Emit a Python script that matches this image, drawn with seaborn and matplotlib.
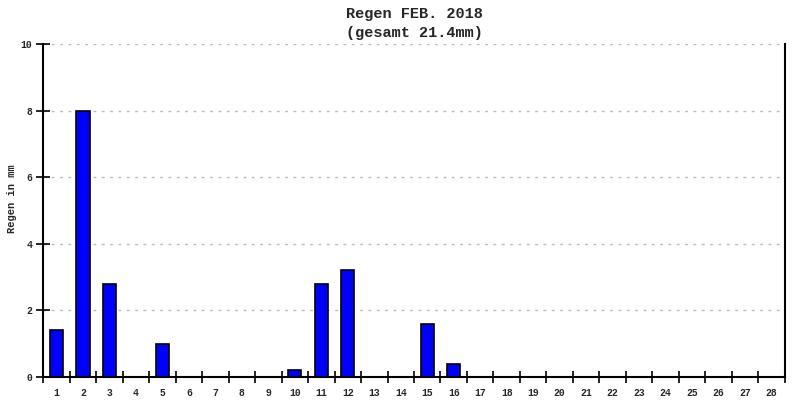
import matplotlib
matplotlib.use("Agg")
import matplotlib.pyplot as plt
import seaborn as sns
import pandas as pd
import numpy as np
from matplotlib.ticker import FixedLocator

# Daily rain values, February 2018
days = [str(d) for d in range(1, 29)]
rain_mm = [1.4, 8.0, 2.8, 0.0, 1.0, 0.0, 0.0, 0.0, 0.0, 0.2,
           2.8, 3.2, 0.0, 0.0, 1.6, 0.4, 0.0, 0.0, 0.0, 0.0,
           0.0, 0.0, 0.0, 0.0, 0.0, 0.0, 0.0, 0.0]
y_ticks = [0, 2, 4, 6, 8, 10]
title = "Regen FEB. 2018\n(gesamt 21.4mm)"
ylabel = "Regen in mm"

df = pd.DataFrame({"day": days, "rain": rain_mm})

sns.set_style("white")
plt.rcParams["font.family"] = ["Liberation Mono", "DejaVu Sans Mono"]

fig = plt.figure(figsize=(8, 4), dpi=100)
ax = fig.add_axes([0.054, 0.0575, 0.927, 0.8325])

sns.barplot(data=df, x="day", y="rain", color="#0000ff", width=0.5,
            edgecolor="black", linewidth=1.2, saturation=1, ax=ax)

ax.set_xlim(-0.5, len(days) - 0.5)
ax.set_ylim(0, 10)
ax.set_yticks(y_ticks)
ax.set_yticklabels([str(t) for t in y_ticks], fontsize=7, fontweight="bold")

# day labels centred, tick marks on the boundaries
ax.tick_params(axis="both", which="both", bottom=True, left=True)
ax.tick_params(axis="x", which="major", length=0, labelsize=7, pad=8)
for lbl in ax.get_xticklabels():
    lbl.set_fontweight("bold")
ax.xaxis.set_minor_locator(FixedLocator(np.arange(-0.5, len(days), 1.0)))
ax.tick_params(axis="x", which="minor", direction="inout", length=8, width=1.2, color="black")
ax.tick_params(axis="y", which="major", direction="inout", length=10, width=1.2, color="black", pad=3)

ax.grid(axis="y", linestyle=(0, (2, 4)), color="#bbbbbb", linewidth=1)
ax.set_axisbelow(True)

for side in ["left", "bottom", "right"]:
    ax.spines[side].set_visible(True)
    ax.spines[side].set_color("black")
    ax.spines[side].set_linewidth(1.5)
ax.spines["top"].set_visible(False)

ax.set_xlabel("")
ax.set_ylabel(ylabel, fontsize=7.5, fontweight="bold")
ax.yaxis.set_label_coords(-0.035, 0.537)
ax.set_title(title, fontsize=11, fontweight="bold", pad=5, linespacing=1.45)

fig.savefig("out.png", dpi=100)
